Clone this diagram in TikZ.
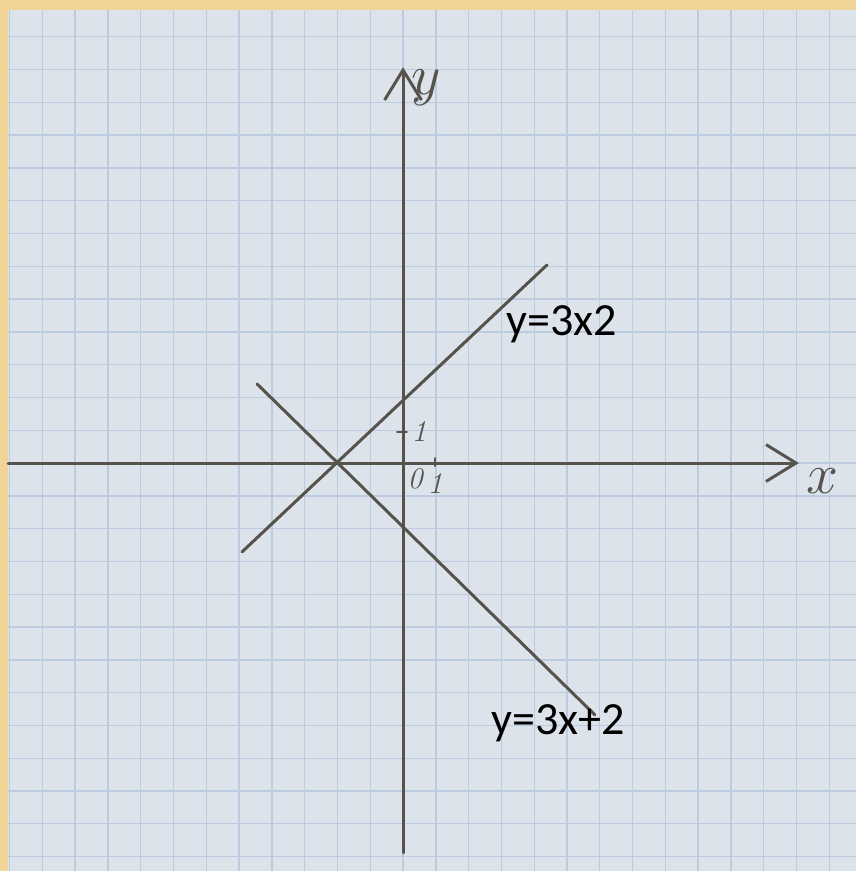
\documentclass[tikz,border=0pt]{standalone}
\usepackage{fontspec}
\newfontfamily\eqfont{Carlito}
\usetikzlibrary{arrows.meta, positioning}

\definecolor{paper}{HTML}{DDE3EA}
\definecolor{gridblue}{HTML}{BDCBE1}
\definecolor{border}{HTML}{F1D597}
\definecolor{pencilgray}{HTML}{56524C}

\begin{document}
\begin{tikzpicture}[x=0.5cm, y=0.5cm,
    stroke/.style={line width=1.3pt, pencilgray, line cap=round},
    axis/.style={stroke, -{Straight Barb[length=13pt, width=16pt, line width=1.3pt]}},
    axislabel/.style={font=\fontsize{40}{44}\selectfont, text=pencilgray, inner sep=0pt},
    hand/.style={font=\fontsize{13}{15}\selectfont\itshape, text=pencilgray, inner sep=0pt},
    eqlabel/.style={font=\eqfont\fontsize{20}{24}\selectfont, inner sep=0pt, anchor=base west},
]
  % Paper and border
  \fill[border] (-12.29,-12.44) rectangle (13.81,14.12);
  \fill[paper] (-12.04,-12.44) rectangle (13.81,13.81);
  \begin{scope}
    \clip (-12.04,-12.44) rectangle (13.81,13.81);
    \draw[gridblue, line width=0.6pt, step=0.5cm] (-13,-13) grid (14,14);
  \end{scope}
  \useasboundingbox (-12.29,-12.44) rectangle (13.81,14.12);

  % Axes
  \coordinate (xstart) at (-12.04,0);
  \coordinate (xend) at (12.07,0);
  \coordinate (ystart) at (0,-11.89);
  \coordinate (yend) at (0,12.07);
  \draw[axis] (xstart) -- (xend);
  \draw[axis] (ystart) -- (yend);
  \node[axislabel] (xlabel) at (12.8,-0.55) {$x$};
  \node[axislabel] (ylabel) at (0.7,11.45) {$y$};

  % Unit marks
  \draw[stroke, line width=0.9pt] (-0.18,0.95) -- (0.12,0.95);
  \draw[stroke, line width=0.9pt] (0.98,0.15) -- (0.98,-0.09);
  \node[hand] (yone) at (0.49,0.95) {1};
  \node[hand] (origin) at (0.37,-0.49) {0};
  \node[hand] (xone) at (0.98,-0.61) {1};

  % The two lines
  \coordinate (riseA) at (-4.91,-2.71);
  \coordinate (riseB) at (4.39,6.04);
  \coordinate (fallA) at (-4.45,2.41);
  \coordinate (fallB) at (5.85,-7.68);
  \draw[stroke] (riseA) -- (riseB);
  \draw[stroke] (fallA) -- (fallB);

  % Equations
  \node[eqlabel] (riselabel) at (3.14,3.90) {y=3x2};
  \node[eqlabel] (falllabel) at (2.68,-8.29) {y=3x+2};
\end{tikzpicture}
\end{document}
